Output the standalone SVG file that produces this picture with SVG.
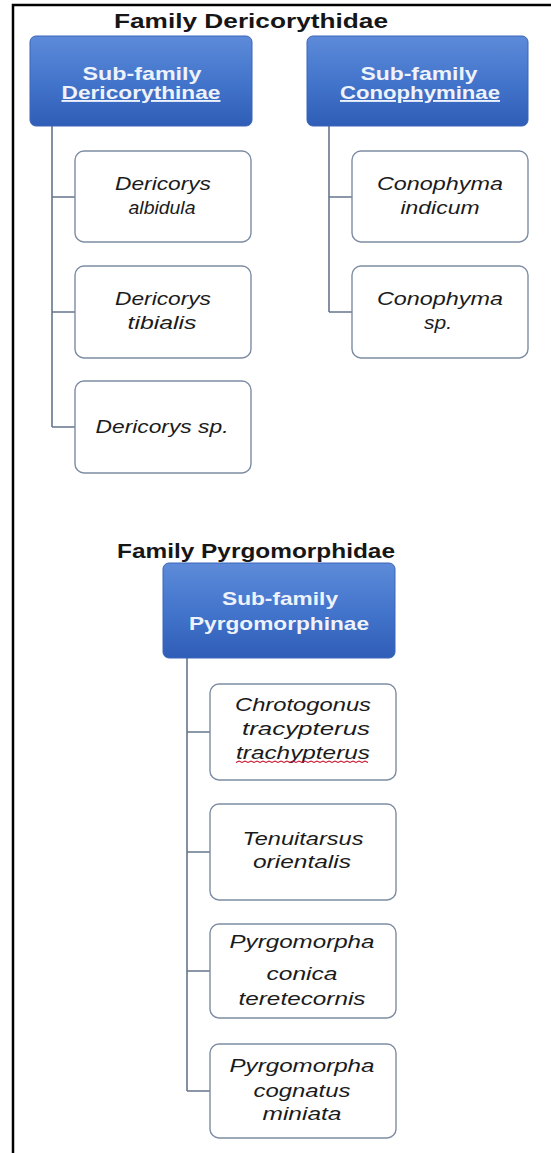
<svg xmlns="http://www.w3.org/2000/svg" width="551" height="1153" viewBox="0 0 551 1153">
<style>
.title{font-family:"Liberation Sans",Arial,sans-serif;font-weight:bold;font-size:19.5px;fill:#161616;text-anchor:middle}
.sub{font-family:"Liberation Sans",Arial,sans-serif;font-weight:bold;font-size:19px;fill:#eef2fa;text-anchor:middle}
.sp{font-family:"Liberation Sans",Arial,sans-serif;font-style:italic;font-size:17.5px;fill:#1b1b1b;text-anchor:middle}
.head{fill:url(#blue);stroke:#3a64b8;stroke-width:1}
.leaf{fill:#ffffff;stroke:#7d8ca3;stroke-width:1.4}
.conn{fill:none;stroke:#66758c;stroke-width:1.6}
</style>
<defs>
<linearGradient id="blue" x1="0" y1="0" x2="0" y2="1">
<stop offset="0" stop-color="#5d8bd9"/>
<stop offset="0.5" stop-color="#4475cc"/>
<stop offset="1" stop-color="#2f5db7"/>
</linearGradient>
</defs>
<rect x="0" y="0" width="551" height="1153" fill="#ffffff"/>
<path d="M13,1153 V5 H551" fill="none" stroke="#000000" stroke-width="2.5"/>

<g id="connectors">
<path class="conn" d="M52,126 V427 M52,197 H75 M52,312 H75 M52,427 H75"/>
<path class="conn" d="M329,126 V312 M329,197 H352 M329,312 H352"/>
<path class="conn" d="M187,658 V1091 M187,732 H210 M187,852 H210 M187,971 H210 M187,1091 H210"/>
</g>

<g id="family1">
<text class="title" x="251" y="28" textLength="274" lengthAdjust="spacingAndGlyphs">Family  Dericorythidae</text>
</g>

<g id="sub-dericorythinae">
<rect class="head" x="30" y="36" width="222" height="90" rx="6"/>
<text class="sub" x="142" y="80" textLength="119" lengthAdjust="spacingAndGlyphs">Sub-family</text>
<text class="sub" x="141" y="99" textLength="159" lengthAdjust="spacingAndGlyphs" text-decoration="underline">Dericorythinae</text>
</g>

<g id="sub-conophyminae">
<rect class="head" x="307" y="36" width="221" height="90" rx="6"/>
<text class="sub" x="419" y="80" textLength="117" lengthAdjust="spacingAndGlyphs">Sub-family</text>
<text class="sub" x="420" y="99" textLength="160" lengthAdjust="spacingAndGlyphs" text-decoration="underline">Conophyminae</text>
</g>

<g id="dericorys-albidula">
<rect class="leaf" x="75" y="151" width="176" height="91" rx="9"/>
<text class="sp" x="163" y="190" textLength="96" lengthAdjust="spacingAndGlyphs">Dericorys</text>
<text class="sp" x="162" y="214" textLength="67" lengthAdjust="spacingAndGlyphs">albidula</text>
</g>

<g id="dericorys-tibialis">
<rect class="leaf" x="75" y="266" width="176" height="92" rx="9"/>
<text class="sp" x="163" y="305" textLength="96" lengthAdjust="spacingAndGlyphs">Dericorys</text>
<text class="sp" x="162" y="329" textLength="69" lengthAdjust="spacingAndGlyphs">tibialis</text>
</g>

<g id="dericorys-sp">
<rect class="leaf" x="75" y="381" width="176" height="92" rx="9"/>
<text class="sp" x="162" y="433" textLength="133" lengthAdjust="spacingAndGlyphs">Dericorys sp.</text>
</g>

<g id="conophyma-indicum">
<rect class="leaf" x="352" y="151" width="176" height="91" rx="9"/>
<text class="sp" x="440" y="190" textLength="126" lengthAdjust="spacingAndGlyphs">Conophyma</text>
<text class="sp" x="440" y="214" textLength="79" lengthAdjust="spacingAndGlyphs">indicum</text>
</g>

<g id="conophyma-sp">
<rect class="leaf" x="352" y="266" width="176" height="92" rx="9"/>
<text class="sp" x="440" y="305" textLength="126" lengthAdjust="spacingAndGlyphs">Conophyma</text>
<text class="sp" x="438" y="329" textLength="28" lengthAdjust="spacingAndGlyphs">sp.</text>
</g>

<g id="family2">
<text class="title" x="256" y="558" textLength="278" lengthAdjust="spacingAndGlyphs">Family Pyrgomorphidae</text>
</g>

<g id="sub-pyrgomorphinae">
<rect class="head" x="163" y="563" width="232" height="95" rx="6"/>
<text class="sub" x="280" y="605" textLength="116" lengthAdjust="spacingAndGlyphs">Sub-family</text>
<text class="sub" x="279" y="630" textLength="180" lengthAdjust="spacingAndGlyphs">Pyrgomorphinae</text>
</g>

<g id="chrotogonus">
<rect class="leaf" x="210" y="684" width="186" height="96" rx="9"/>
<text class="sp" x="303" y="711" textLength="136" lengthAdjust="spacingAndGlyphs">Chrotogonus</text>
<text class="sp" x="306" y="735" textLength="128" lengthAdjust="spacingAndGlyphs">tracypterus</text>
<text class="sp" x="303" y="759" textLength="134" lengthAdjust="spacingAndGlyphs">trachypterus</text>
<path d="M236,762.5 l3,-1.5 l3,1.5 l3,-1.5 l3,1.5 l3,-1.5 l3,1.5 l3,-1.5 l3,1.5 l3,-1.5 l3,1.5 l3,-1.5 l3,1.5 l3,-1.5 l3,1.5 l3,-1.5 l3,1.5 l3,-1.5 l3,1.5 l3,-1.5 l3,1.5 l3,-1.5 l3,1.5 l3,-1.5 l3,1.5 l3,-1.5 l3,1.5 l3,-1.5 l3,1.5 l3,-1.5 l3,1.5 l3,-1.5 l3,1.5 l3,-1.5 l3,1.5 l3,-1.5 l3,1.5 l3,-1.5 l3,1.5 l3,-1.5 l3,1.5 l3,-1.5 l3,1.5 l3,-1.5 l3,1.5" fill="none" stroke="#c8102e" stroke-width="1.1"/>
</g>

<g id="tenuitarsus">
<rect class="leaf" x="210" y="804" width="186" height="96" rx="9"/>
<text class="sp" x="303" y="845" textLength="121" lengthAdjust="spacingAndGlyphs">Tenuitarsus</text>
<text class="sp" x="302" y="868" textLength="98" lengthAdjust="spacingAndGlyphs">orientalis</text>
</g>

<g id="pyrgomorpha-conica">
<rect class="leaf" x="210" y="924" width="186" height="94" rx="9"/>
<text class="sp" x="302" y="948" textLength="145" lengthAdjust="spacingAndGlyphs">Pyrgomorpha</text>
<text class="sp" x="302" y="980" textLength="71" lengthAdjust="spacingAndGlyphs">conica</text>
<text class="sp" x="302" y="1005" textLength="127" lengthAdjust="spacingAndGlyphs">teretecornis</text>
</g>

<g id="pyrgomorpha-cognatus">
<rect class="leaf" x="210" y="1044" width="186" height="94" rx="9"/>
<text class="sp" x="302" y="1072" textLength="145" lengthAdjust="spacingAndGlyphs">Pyrgomorpha</text>
<text class="sp" x="302" y="1097" textLength="97" lengthAdjust="spacingAndGlyphs">cognatus</text>
<text class="sp" x="302" y="1120" textLength="79" lengthAdjust="spacingAndGlyphs">miniata</text>
</g>
</svg>
